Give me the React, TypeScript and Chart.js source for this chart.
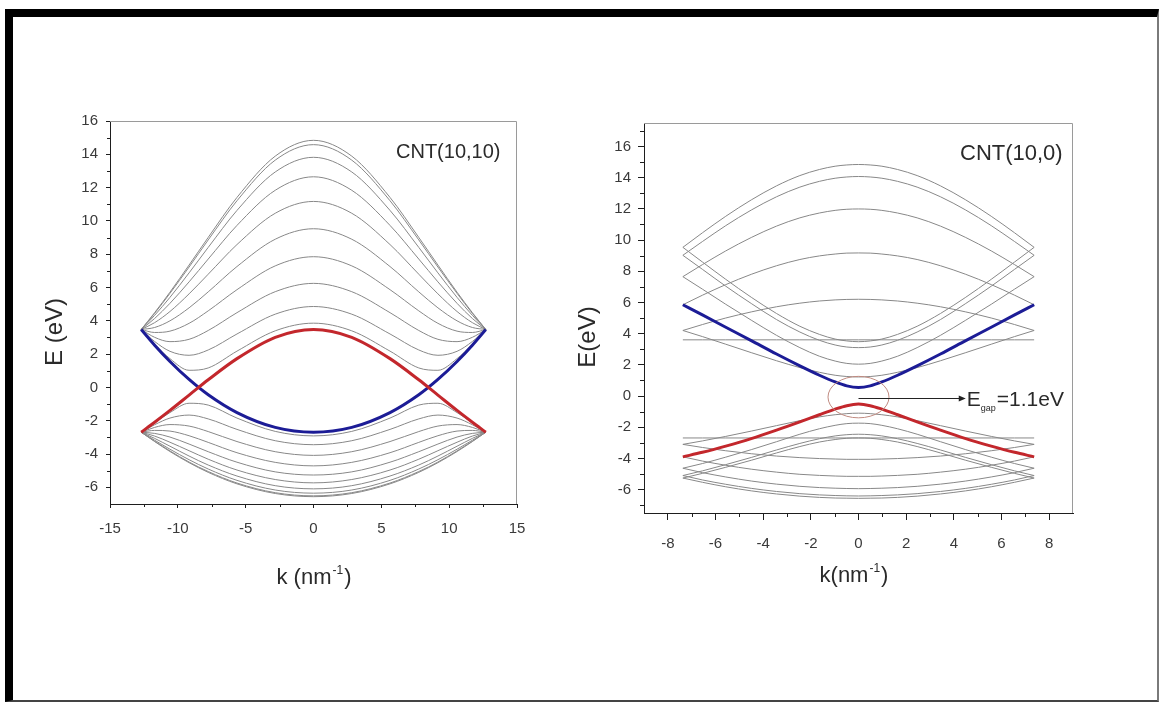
import React, { useEffect, useRef } from 'react';
import { Chart, registerables } from 'chart.js';

Chart.register(...registerables);

// ---------- CNT(10,10) armchair : k (nm^-1) samples ----------
const K_ARM = [-12.7, -11.71, -10.58, -9.17, -7.76, -5.64, -2.82, 0, 2.82, 5.64, 7.76, 9.17, 10.58, 11.71, 12.7];

const A_RED = [-2.69, -2.09, -1.38, -0.46, 0.46, 1.73, 3.01, 3.48, 3.01, 1.73, 0.46, -0.46, -1.38, -2.09, -2.69];
const A_BLUE = [3.48, 2.54, 1.56, 0.48, -0.44, -1.51, -2.4, -2.69, -2.4, -1.51, -0.44, 0.48, 1.56, 2.54, 3.48];

const A_UP_1 = [3.48, 4.49, 5.72, 7.35, 9.01, 11.41, 13.89, 14.84, 13.89, 11.41, 9.01, 7.35, 5.72, 4.49, 3.48];
const A_UP_2 = [3.48, 4.45, 5.65, 7.23, 8.86, 11.21, 13.65, 14.58, 13.65, 11.21, 8.86, 7.23, 5.65, 4.45, 3.48];
const A_UP_3 = [3.48, 4.33, 5.41, 6.88, 8.41, 10.63, 12.94, 13.82, 12.94, 10.63, 8.41, 6.88, 5.41, 4.33, 3.48];
const A_UP_4 = [3.48, 4.14, 5.05, 6.34, 7.71, 9.73, 11.84, 12.65, 11.84, 9.73, 7.71, 6.34, 5.05, 4.14, 3.48];
const A_UP_5 = [3.48, 3.89, 4.56, 5.62, 6.8, 8.58, 10.46, 11.17, 10.46, 8.58, 6.8, 5.62, 4.56, 3.89, 3.48];
const A_UP_6 = [3.48, 3.6, 4.0, 4.78, 5.74, 7.26, 8.9, 9.53, 8.9, 7.26, 5.74, 4.78, 4.0, 3.6, 3.48];
const A_UP_7 = [3.48, 3.3, 3.38, 3.85, 4.6, 5.87, 7.3, 7.85, 7.3, 5.87, 4.6, 3.85, 3.38, 3.3, 3.48];
const A_UP_8 = [3.48, 3.01, 2.75, 2.89, 3.42, 4.49, 5.75, 6.25, 5.75, 4.49, 3.42, 2.89, 2.75, 3.01, 3.48];
const A_UP_9 = [3.48, 2.76, 2.17, 1.93, 2.25, 3.21, 4.4, 4.86, 4.4, 3.21, 2.25, 1.93, 2.17, 2.76, 3.48];
const A_UP_10 = [3.48, 2.6, 1.73, 1.03, 1.17, 2.18, 3.4, 3.86, 3.4, 2.18, 1.17, 1.03, 1.73, 2.6, 3.48];

const A_LO_1 = [-2.69, -3.25, -3.85, -4.52, -5.1, -5.79, -6.37, -6.56, -6.37, -5.79, -5.1, -4.52, -3.85, -3.25, -2.69];
const A_LO_2 = [-2.69, -3.23, -3.81, -4.48, -5.05, -5.74, -6.32, -6.51, -6.32, -5.74, -5.05, -4.48, -3.81, -3.23, -2.69];
const A_LO_3 = [-2.69, -3.17, -3.71, -4.34, -4.9, -5.58, -6.16, -6.35, -6.16, -5.58, -4.9, -4.34, -3.71, -3.17, -2.69];
const A_LO_4 = [-2.69, -3.06, -3.53, -4.12, -4.66, -5.32, -5.9, -6.09, -5.9, -5.32, -4.66, -4.12, -3.53, -3.06, -2.69];
const A_LO_5 = [-2.69, -2.92, -3.29, -3.8, -4.31, -4.96, -5.53, -5.73, -5.53, -4.96, -4.31, -3.8, -3.29, -2.92, -2.69];
const A_LO_6 = [-2.69, -2.76, -2.98, -3.4, -3.86, -4.49, -5.07, -5.26, -5.07, -4.49, -3.86, -3.4, -2.98, -2.76, -2.69];
const A_LO_7 = [-2.69, -2.58, -2.62, -2.9, -3.3, -3.92, -4.5, -4.71, -4.5, -3.92, -3.3, -2.9, -2.62, -2.58, -2.69];
const A_LO_8 = [-2.69, -2.4, -2.23, -2.32, -2.65, -3.25, -3.86, -4.08, -3.86, -3.25, -2.65, -2.32, -2.23, -2.4, -2.69];
const A_LO_9 = [-2.69, -2.24, -1.84, -1.66, -1.89, -2.52, -3.2, -3.44, -3.2, -2.52, -1.89, -1.66, -1.84, -2.24, -2.69];
const A_LO_10 = [-2.69, -2.13, -1.51, -0.95, -1.06, -1.84, -2.64, -2.91, -2.64, -1.84, -1.06, -0.95, -1.51, -2.13, -2.69];

const ARM_GREY = [A_UP_1, A_UP_2, A_UP_3, A_UP_4, A_UP_5, A_UP_6, A_UP_7, A_UP_8, A_UP_9, A_UP_10,
  A_LO_1, A_LO_2, A_LO_3, A_LO_4, A_LO_5, A_LO_6, A_LO_7, A_LO_8, A_LO_9, A_LO_10];

// ---------- CNT(10,0) zigzag : k (nm^-1) samples ----------
const K_ZIG = [-7.37, -6.55, -5.57, -4.5, -3.44, -2.46, -1.64, -0.98, -0.49, 0, 0.49, 0.98, 1.64, 2.46, 3.44, 4.5, 5.57, 6.55, 7.37];

const Z_BLUE = [5.85, 5.2, 4.41, 3.55, 2.69, 1.93, 1.33, 0.9, 0.65, 0.55, 0.65, 0.9, 1.33, 1.93, 2.69, 3.55, 4.41, 5.2, 5.85];
const Z_RED = [-3.9, -3.61, -3.21, -2.73, -2.19, -1.66, -1.2, -0.84, -0.62, -0.52, -0.62, -0.84, -1.2, -1.66, -2.19, -2.73, -3.21, -3.61, -3.9];

const Z_UP_1 = [9.53, 10.46, 11.52, 12.57, 13.47, 14.13, 14.52, 14.73, 14.81, 14.84, 14.81, 14.73, 14.52, 14.13, 13.47, 12.57, 11.52, 10.46, 9.53];
const Z_UP_2 = [9.02, 9.9, 10.92, 11.92, 12.77, 13.39, 13.76, 13.96, 14.04, 14.07, 14.04, 13.96, 13.76, 13.39, 12.77, 11.92, 10.92, 9.9, 9.02];
const Z_UP_3 = [7.65, 8.42, 9.3, 10.16, 10.89, 11.42, 11.73, 11.9, 11.97, 11.99, 11.97, 11.9, 11.73, 11.42, 10.89, 10.16, 9.3, 8.42, 7.65];
const Z_UP_4 = [5.85, 6.46, 7.14, 7.8, 8.35, 8.75, 8.98, 9.1, 9.16, 9.17, 9.16, 9.1, 8.98, 8.75, 8.35, 7.8, 7.14, 6.46, 5.85];
const Z_UP_5 = [4.2, 4.58, 5.0, 5.39, 5.72, 5.95, 6.09, 6.16, 6.19, 6.2, 6.19, 6.16, 6.09, 5.95, 5.72, 5.39, 5.0, 4.58, 4.2];
const Z_UP_6 = [3.6, 3.6, 3.6, 3.6, 3.6, 3.6, 3.6, 3.6, 3.6, 3.6, 3.6, 3.6, 3.6, 3.6, 3.6, 3.6, 3.6, 3.6, 3.6];
const Z_UP_7 = [4.2, 3.81, 3.32, 2.78, 2.26, 1.82, 1.52, 1.33, 1.25, 1.22, 1.25, 1.33, 1.52, 1.82, 2.26, 2.78, 3.32, 3.81, 4.2];
const Z_UP_9 = [7.65, 6.85, 5.88, 4.86, 3.89, 3.1, 2.55, 2.24, 2.09, 2.04, 2.09, 2.24, 2.55, 3.1, 3.89, 4.86, 5.88, 6.85, 7.65];
const Z_UP_10 = [9.02, 8.12, 7.04, 5.93, 4.9, 4.1, 3.57, 3.27, 3.14, 3.1, 3.14, 3.27, 3.57, 4.1, 4.9, 5.93, 7.04, 8.12, 9.02];
const Z_UP_11 = [9.53, 8.59, 7.48, 6.33, 5.29, 4.47, 3.95, 3.65, 3.53, 3.48, 3.53, 3.65, 3.95, 4.47, 5.29, 6.33, 7.48, 8.59, 9.53];

const Z_LO_1 = [-5.26, -5.53, -5.82, -6.08, -6.28, -6.42, -6.5, -6.54, -6.55, -6.56, -6.55, -6.54, -6.5, -6.42, -6.28, -6.08, -5.82, -5.53, -5.26];
const Z_LO_2 = [-5.1, -5.38, -5.66, -5.92, -6.12, -6.26, -6.34, -6.38, -6.4, -6.41, -6.4, -6.38, -6.34, -6.26, -6.12, -5.92, -5.66, -5.38, -5.1];
const Z_LO_3 = [-4.63, -4.91, -5.19, -5.45, -5.65, -5.79, -5.87, -5.91, -5.93, -5.94, -5.93, -5.91, -5.87, -5.79, -5.65, -5.45, -5.19, -4.91, -4.63];
const Z_LO_4 = [-3.9, -4.17, -4.44, -4.69, -4.88, -5.02, -5.09, -5.13, -5.15, -5.15, -5.15, -5.13, -5.09, -5.02, -4.88, -4.69, -4.44, -4.17, -3.9];
const Z_LO_5 = [-3.1, -3.3, -3.51, -3.7, -3.85, -3.95, -4.01, -4.04, -4.06, -4.06, -4.06, -4.04, -4.01, -3.95, -3.85, -3.7, -3.51, -3.3, -3.1];
const Z_LO_6 = [-2.69, -2.69, -2.69, -2.69, -2.69, -2.69, -2.69, -2.69, -2.69, -2.69, -2.69, -2.69, -2.69, -2.69, -2.69, -2.69, -2.69, -2.69, -2.69];
const Z_LO_7 = [-3.1, -2.88, -2.59, -2.25, -1.9, -1.58, -1.34, -1.2, -1.13, -1.1, -1.13, -1.2, -1.34, -1.58, -1.9, -2.25, -2.59, -2.88, -3.1];
const Z_LO_9 = [-4.63, -4.33, -3.92, -3.44, -2.93, -2.45, -2.1, -1.88, -1.77, -1.74, -1.77, -1.88, -2.1, -2.45, -2.93, -3.44, -3.92, -4.33, -4.63];
const Z_LO_10 = [-5.1, -4.8, -4.4, -3.94, -3.46, -3.04, -2.74, -2.56, -2.48, -2.45, -2.48, -2.56, -2.74, -3.04, -3.46, -3.94, -4.4, -4.8, -5.1];
const Z_LO_11 = [-5.26, -4.96, -4.57, -4.12, -3.65, -3.24, -2.95, -2.79, -2.71, -2.69, -2.71, -2.79, -2.95, -3.24, -3.65, -4.12, -4.57, -4.96, -5.26];

const ZIG_GREY = [Z_UP_1, Z_UP_2, Z_UP_3, Z_UP_4, Z_UP_5, Z_UP_6, Z_UP_7, Z_UP_9, Z_UP_10, Z_UP_11,
  Z_LO_1, Z_LO_2, Z_LO_3, Z_LO_4, Z_LO_5, Z_LO_6, Z_LO_7, Z_LO_9, Z_LO_10, Z_LO_11];

// ---------- ticks ----------
const ARM_X_TICKS = [-15, -10, -5, 0, 5, 10, 15];
const ARM_X_MINOR = [-12.5, -7.5, -2.5, 2.5, 7.5, 12.5];
const ARM_Y_TICKS = [-6, -4, -2, 0, 2, 4, 6, 8, 10, 12, 14, 16];
const ARM_Y_MINOR = [-5, -3, -1, 1, 3, 5, 7, 9, 11, 13, 15];
const ZIG_X_TICKS = [-8, -6, -4, -2, 0, 2, 4, 6, 8];
const ZIG_X_MINOR = [-7, -5, -3, -1, 1, 3, 5, 7];
const ZIG_Y_TICKS = [-6, -4, -2, 0, 2, 4, 6, 8, 10, 12, 14, 16];
const ZIG_Y_MINOR = [-7, -5, -3, -1, 1, 3, 5, 7, 9, 11, 13, 15, 17];

// gap annotation (data units)
const GAP_ELLIPSE = { cx: 0, cy: -0.07, rx: 1.28, ry: 1.33 };
const GAP_ARROW = { from: 0, to: 4.5, y: -0.1 };

const FONT = '"Liberation Sans", Arial, Helvetica, sans-serif';
const AXIS = '#1e1e1e';
const GREY = '#888888';
const RED = '#c3272c';
const BLUE = '#1c1c96';
const TICK_TEXT = '#3a3a3a';

function series(ks: number[], ys: number[], color: string, width: number) {
  return {
    data: ks.map((x, i) => ({ x, y: ys[i] })),
    borderColor: color,
    borderWidth: width,
    pointRadius: 0,
    pointHoverRadius: 0,
    fill: false,
    cubicInterpolationMode: 'monotone',
  };
}

function axis(o: any) {
  return {
    type: 'linear',
    position: o.horizontal ? 'bottom' : 'left',
    min: o.min,
    max: o.max,
    afterBuildTicks: (s: any) => { s.ticks = o.ticks.map((v: number) => ({ value: v })); },
    afterFit: (s: any) => { if (o.horizontal) s.height = o.size; else s.width = o.size; },
    grid: { display: true, drawOnChartArea: false, drawTicks: true, tickLength: o.tickLen, tickColor: AXIS, tickWidth: 1 },
    border: { display: true, color: AXIS, width: 1 },
    ticks: {
      font: { family: FONT, size: 15 },
      color: TICK_TEXT,
      padding: o.pad,
      autoSkip: false,
      maxRotation: 0,
      minRotation: 0,
      callback: (v: any) => String(v),
    },
  };
}

function decor(d: any) {
  return {
    id: 'decor',
    afterDraw(chart: any) {
      const { ctx, chartArea: a, scales } = chart;
      const xs = scales.x;
      const ys = scales.y;
      ctx.save();
      // top + right frame
      ctx.strokeStyle = '#9a9a9a';
      ctx.lineWidth = 1;
      ctx.beginPath();
      ctx.moveTo(a.left, Math.round(a.top) + 0.5);
      ctx.lineTo(Math.round(a.right) - 0.5, Math.round(a.top) + 0.5);
      ctx.lineTo(Math.round(a.right) - 0.5, a.bottom);
      ctx.stroke();
      // minor ticks
      ctx.strokeStyle = AXIS;
      ctx.beginPath();
      d.xMinor.forEach((v: number) => {
        const p = Math.round(xs.getPixelForValue(v)) + 0.5;
        ctx.moveTo(p, a.bottom);
        ctx.lineTo(p, a.bottom + d.minorLen);
      });
      d.yMinor.forEach((v: number) => {
        const p = Math.round(ys.getPixelForValue(v)) + 0.5;
        ctx.moveTo(a.left - d.minorLen, p);
        ctx.lineTo(a.left, p);
      });
      ctx.stroke();

      ctx.fillStyle = '#2a2a2a';
      // y title
      ctx.save();
      ctx.translate(d.yTitleX, d.yTitleY);
      ctx.rotate(-Math.PI / 2);
      ctx.font = `${d.yTitleSize}px ${FONT}`;
      ctx.textAlign = 'center';
      ctx.textBaseline = 'middle';
      ctx.fillText(d.yTitle, 0, 0);
      ctx.restore();

      // x title with superscript
      const big = `${d.xTitleSize}px ${FONT}`;
      const small = `${Math.round(d.xTitleSize * 0.55)}px ${FONT}`;
      ctx.font = big;
      const w1 = ctx.measureText(d.xTitle[0]).width;
      const w3 = ctx.measureText(d.xTitle[2]).width;
      ctx.font = small;
      const w2 = ctx.measureText(d.xTitle[1]).width;
      let x = d.xTitleX - (w1 + w2 + w3) / 2;
      ctx.textAlign = 'left';
      ctx.textBaseline = 'alphabetic';
      ctx.font = big;
      ctx.fillText(d.xTitle[0], x, d.xTitleY);
      x += w1;
      ctx.font = small;
      ctx.fillText(d.xTitle[1], x + 1, d.xTitleY - d.xTitleSize * 0.45);
      x += w2 + 2;
      ctx.font = big;
      ctx.fillText(d.xTitle[2], x, d.xTitleY);

      // panel label
      ctx.font = `${d.labelSize}px ${FONT}`;
      ctx.fillText(d.label, d.labelX, d.labelY);

      if (d.gap) {
        const cx = xs.getPixelForValue(GAP_ELLIPSE.cx);
        const cy = ys.getPixelForValue(GAP_ELLIPSE.cy);
        const rx = xs.getPixelForValue(GAP_ELLIPSE.cx + GAP_ELLIPSE.rx) - cx;
        const ry = cy - ys.getPixelForValue(GAP_ELLIPSE.cy + GAP_ELLIPSE.ry);
        ctx.strokeStyle = '#c08a80';
        ctx.lineWidth = 1;
        ctx.beginPath();
        ctx.ellipse(cx, cy, rx, ry, 0, 0, Math.PI * 2);
        ctx.stroke();
        const ax0 = xs.getPixelForValue(GAP_ARROW.from);
        const ax1 = xs.getPixelForValue(GAP_ARROW.to);
        const ay = Math.round(ys.getPixelForValue(GAP_ARROW.y)) + 0.5;
        ctx.strokeStyle = '#222';
        ctx.beginPath();
        ctx.moveTo(ax0, ay);
        ctx.lineTo(ax1 - 5, ay);
        ctx.stroke();
        ctx.fillStyle = '#222';
        ctx.beginPath();
        ctx.moveTo(ax1, ay);
        ctx.lineTo(ax1 - 7, ay - 3);
        ctx.lineTo(ax1 - 7, ay + 3);
        ctx.closePath();
        ctx.fill();
        ctx.fillStyle = '#2a2a2a';
        let gx = ax1 + 1;
        const gb = ay + 7;
        ctx.font = `21px ${FONT}`;
        ctx.fillText('E', gx, gb);
        gx += ctx.measureText('E').width;
        ctx.font = `9px ${FONT}`;
        ctx.fillText('gap', gx, gb + 5);
        gx += ctx.measureText('gap').width + 1;
        ctx.font = `21px ${FONT}`;
        ctx.fillText('=1.1eV', gx, gb);
      }
      ctx.restore();
    },
  };
}

function makeConfig(p: any) {
  const datasets: any[] = [
    series(p.k, p.red, RED, 3),
    series(p.k, p.blue, BLUE, 3),
    ...p.grey.map((g: number[]) => series(p.k, g, GREY, 1)),
  ];
  return {
    type: 'line',
    data: { datasets },
    options: {
      animation: false,
      responsive: false,
      devicePixelRatio: 1,
      events: [],
      layout: { padding: p.padding },
      plugins: { legend: { display: false }, tooltip: { enabled: false }, title: { display: false } },
      scales: {
        x: axis({ horizontal: true, min: p.xMin, max: p.xMax, ticks: p.xTicks, size: p.xSize, tickLen: p.xTickLen, pad: p.xPad }),
        y: axis({ horizontal: false, min: p.yMin, max: p.yMax, ticks: p.yTicks, size: p.ySize, tickLen: p.yTickLen, pad: p.yPad }),
      },
    },
    plugins: [decor(p.decor)],
  };
}

function Panel({ left, width, height, cfg }: any) {
  const ref = useRef<HTMLCanvasElement>(null);
  useEffect(() => {
    const chart = new Chart(ref.current as HTMLCanvasElement, makeConfig(cfg) as any);
    return () => chart.destroy();
  }, []);
  return (
    <canvas
      ref={ref}
      width={width}
      height={height}
      style={{ position: 'absolute', left, top: 0, width, height }}
    />
  );
}

const LEFT_CFG = {
  k: K_ARM, red: A_RED, blue: A_BLUE, grey: ARM_GREY,
  xMin: -15, xMax: 15, yMin: -7, yMax: 16,
  xTicks: ARM_X_TICKS, yTicks: ARM_Y_TICKS,
  padding: { left: 0, top: 121, right: 43, bottom: 0 },
  xSize: 200, ySize: 110, xTickLen: 4, xPad: 12, yTickLen: 4, yPad: 8,
  decor: {
    xMinor: ARM_X_MINOR, yMinor: ARM_Y_MINOR, minorLen: 3,
    yTitle: 'E (eV)', yTitleX: 55, yTitleY: 332, yTitleSize: 24,
    xTitle: ['k (nm', '-1', ')'], xTitleX: 313, xTitleY: 584, xTitleSize: 22,
    label: 'CNT(10,10)', labelX: 396, labelY: 158, labelSize: 20,
    gap: false,
  },
};

const RIGHT_CFG = {
  k: K_ZIG, red: Z_RED, blue: Z_BLUE, grey: ZIG_GREY,
  xMin: -9, xMax: 9, yMin: -7.5, yMax: 17.5,
  xTicks: ZIG_X_TICKS, yTicks: ZIG_Y_TICKS,
  padding: { left: 0, top: 123, right: 87, bottom: 0 },
  xSize: 191, ySize: 84, xTickLen: 7, xPad: 15, yTickLen: 6, yPad: 7,
  decor: {
    xMinor: ZIG_X_MINOR, yMinor: ZIG_Y_MINOR, minorLen: 4,
    yTitle: 'E(eV)', yTitleX: 28, yTitleY: 337, yTitleSize: 24,
    xTitle: ['k(nm', '-1', ')'], xTitleX: 293, xTitleY: 582, xTitleSize: 22,
    label: 'CNT(10,0)', labelX: 400, labelY: 160, labelSize: 22,
    gap: true,
  },
};

export default function App() {
  return (
    <div style={{ position: 'absolute', left: 0, top: 0, width: 1160, height: 704, background: '#fff', overflow: 'hidden' }}>
      <div
        style={{
          position: 'absolute', left: 5, top: 9, width: 1154, height: 693, boxSizing: 'border-box',
          borderTop: '8px solid #000', borderLeft: '8px solid #000',
          borderRight: '2px solid #7a7a7a', borderBottom: '2px solid #444',
        }}
      />
      <Panel left={0} width={560} height={704} cfg={LEFT_CFG} />
      <Panel left={560} width={600} height={704} cfg={RIGHT_CFG} />
    </div>
  );
}
